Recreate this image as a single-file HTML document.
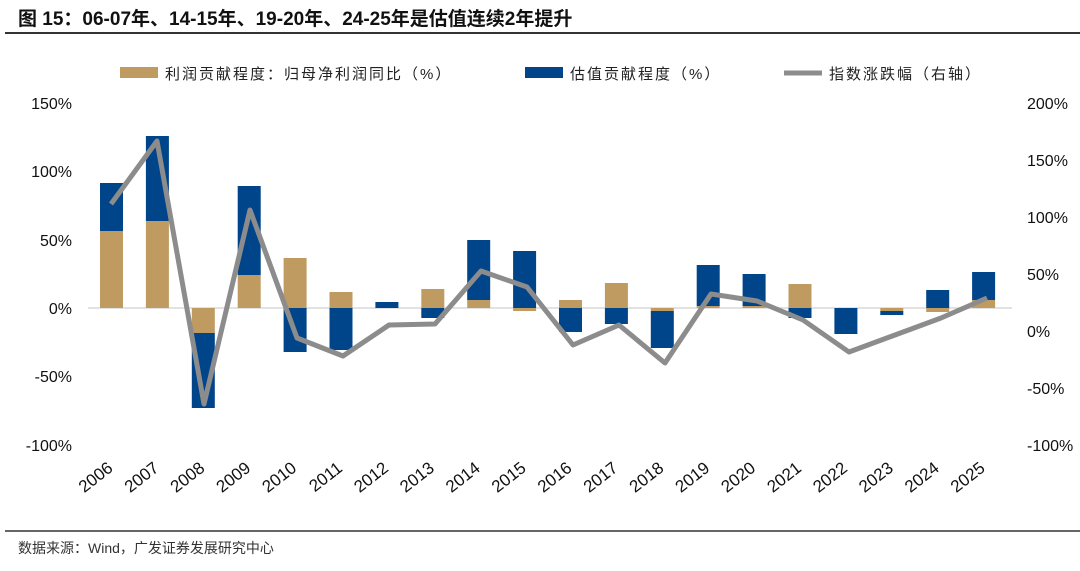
<!DOCTYPE html><html><head><meta charset="utf-8"><style>
body{margin:0;background:#fff;}
svg text{font-family:"Liberation Sans","Noto Sans CJK SC",sans-serif;}
</style></head><body>
<svg width="1080" height="566" viewBox="0 0 1080 566" xmlns="http://www.w3.org/2000/svg">
<text x="18" y="25" font-size="19" font-weight="bold" fill="#111">图 15：06-07年、14-15年、19-20年、24-25年是估值连续2年提升</text>
<line x1="5" y1="33" x2="1080" y2="33" stroke="#333" stroke-width="2"/>
<g font-size="15" fill="#222">
<rect x="120" y="67" width="38" height="11" fill="#BF9B62"/><text x="165" y="79" letter-spacing="2">利润贡献程度：归母净利润同比（%）</text>
<rect x="525" y="67" width="38" height="11" fill="#00448A"/><text x="570" y="79" letter-spacing="2">估值贡献程度（%）</text>
<line x1="784" y1="73" x2="822" y2="73" stroke="#8C8C8C" stroke-width="5"/><text x="829" y="79" letter-spacing="2">指数涨跌幅（右轴）</text>
</g>
<g font-size="16" fill="#111" text-anchor="end">
<text x="72" y="109">150%</text><text x="72" y="177">100%</text><text x="72" y="246">50%</text><text x="72" y="314">0%</text><text x="72" y="382">-50%</text><text x="72" y="451">-100%</text>
</g>
<g font-size="16" fill="#111">
<text x="1027" y="109">200%</text><text x="1027" y="166">150%</text><text x="1027" y="223">100%</text><text x="1027" y="280">50%</text><text x="1027" y="337">0%</text><text x="1027" y="394">-50%</text><text x="1027" y="451">-100%</text>
</g>
<line x1="88" y1="308" x2="1012" y2="308" stroke="#D9D9D9" stroke-width="1.5"/>
<g fill="#BF9B62">
<rect x="100" y="231" width="23" height="77"/>
<rect x="145.9" y="221" width="23" height="87"/>
<rect x="191.8" y="308" width="23" height="25"/>
<rect x="237.7" y="275" width="23" height="33"/>
<rect x="283.6" y="258" width="23" height="50"/>
<rect x="329.5" y="292" width="23" height="16"/>
<rect x="421.3" y="289" width="23" height="19"/>
<rect x="467.2" y="300" width="23" height="8"/>
<rect x="513.1" y="308" width="23" height="3"/>
<rect x="559" y="300" width="23" height="8"/>
<rect x="604.9" y="283" width="23" height="25"/>
<rect x="650.8" y="308" width="23" height="3"/>
<rect x="696.7" y="306" width="23" height="2"/>
<rect x="742.6" y="306" width="23" height="2"/>
<rect x="788.5" y="284" width="23" height="24"/>
<rect x="880.3" y="308" width="23" height="3"/>
<rect x="926.2" y="308" width="23" height="4"/>
<rect x="972.1" y="300" width="23" height="8"/>
</g>
<g fill="#00448A">
<rect x="100" y="183" width="23" height="48"/>
<rect x="145.9" y="136" width="23" height="85"/>
<rect x="191.8" y="333" width="23" height="75"/>
<rect x="237.7" y="186" width="23" height="89"/>
<rect x="283.6" y="308" width="23" height="44"/>
<rect x="329.5" y="308" width="23" height="42"/>
<rect x="375.4" y="302" width="23" height="6"/>
<rect x="421.3" y="308" width="23" height="10"/>
<rect x="467.2" y="240" width="23" height="60"/>
<rect x="513.1" y="251" width="23" height="57"/>
<rect x="559" y="308" width="23" height="24"/>
<rect x="604.9" y="308" width="23" height="16"/>
<rect x="650.8" y="311" width="23" height="37"/>
<rect x="696.7" y="265" width="23" height="41"/>
<rect x="742.6" y="274" width="23" height="32"/>
<rect x="788.5" y="308" width="23" height="10"/>
<rect x="834.4" y="308" width="23" height="26"/>
<rect x="880.3" y="311" width="23" height="4"/>
<rect x="926.2" y="290" width="23" height="18"/>
<rect x="972.1" y="272" width="23" height="28"/>
</g>
<polyline fill="none" stroke="#8C8C8C" stroke-width="5" stroke-linejoin="round" points="111,204 157,141 204,404 250,210 297,338 343,356 389,325 435,324 481,271 527,287 573,345 619,325 665,363 711,294 757,301 803,320 849,352 895,335 941,318 987,298"/>
<g font-size="17" fill="#111" text-anchor="end">
<text transform="translate(114,470) rotate(-38)">2006</text>
<text transform="translate(159.9,470) rotate(-38)">2007</text>
<text transform="translate(205.8,470) rotate(-38)">2008</text>
<text transform="translate(251.7,470) rotate(-38)">2009</text>
<text transform="translate(297.6,470) rotate(-38)">2010</text>
<text transform="translate(343.5,470) rotate(-38)">2011</text>
<text transform="translate(389.4,470) rotate(-38)">2012</text>
<text transform="translate(435.3,470) rotate(-38)">2013</text>
<text transform="translate(481.2,470) rotate(-38)">2014</text>
<text transform="translate(527.1,470) rotate(-38)">2015</text>
<text transform="translate(573,470) rotate(-38)">2016</text>
<text transform="translate(618.9,470) rotate(-38)">2017</text>
<text transform="translate(664.8,470) rotate(-38)">2018</text>
<text transform="translate(710.7,470) rotate(-38)">2019</text>
<text transform="translate(756.6,470) rotate(-38)">2020</text>
<text transform="translate(802.5,470) rotate(-38)">2021</text>
<text transform="translate(848.4,470) rotate(-38)">2022</text>
<text transform="translate(894.3,470) rotate(-38)">2023</text>
<text transform="translate(940.2,470) rotate(-38)">2024</text>
<text transform="translate(986.1,470) rotate(-38)">2025</text>
</g>
<line x1="5" y1="531" x2="1080" y2="531" stroke="#333" stroke-width="1.5"/>
<text x="18" y="553" font-size="14" fill="#333">数据来源：Wind，广发证券发展研究中心</text>
</svg>
</body></html>
